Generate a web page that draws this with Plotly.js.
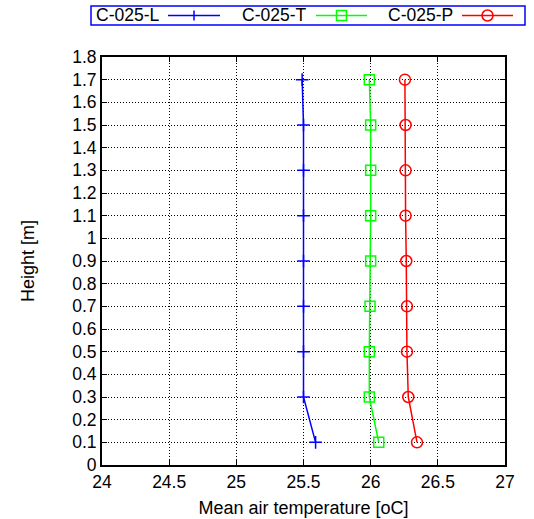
<!DOCTYPE html>
<html>
<head>
<meta charset="utf-8">
<script src="https://cdn.plot.ly/plotly-3.0.1.min.js"></script>
<style>html,body{margin:0;padding:0;background:#fff;}#chart{width:534px;height:519px;}</style>
</head>
<body>
<div id="chart"></div>
<script>
var heights = [0.1, 0.3, 0.5, 0.7, 0.9, 1.1, 1.3, 1.5, 1.7];
var tempL = [25.59, 25.50, 25.50, 25.50, 25.50, 25.50, 25.50, 25.50, 25.49];
var tempT = [26.06, 25.99, 25.99, 25.995, 26.00, 26.00, 26.00, 26.00, 25.99];
var tempP = [26.345, 26.28, 26.27, 26.27, 26.265, 26.26, 26.26, 26.26, 26.255];
var seriesNames = ['C-025-L', 'C-025-T', 'C-025-P'];

var FONT = 'Liberation Sans, Arial, sans-serif';
var W = 534, H = 519;
var M = {l: 102, r: 29, t: 57, b: 54};
var plotW = W - M.l - M.r, plotH = H - M.t - M.b;
function px(x) { return (x - M.l) / plotW; }
function py(y) { return (H - M.b - y) / plotH; }

var traces = [
  {x: tempL, y: heights, name: seriesNames[0], mode: 'lines+markers',
   line: {color: '#0000ff', width: 1.5},
   marker: {symbol: 'cross-thin-open', size: 9, line: {color: '#0000ff', width: 1.5}}},
  {x: tempT, y: heights, name: seriesNames[1], mode: 'lines+markers',
   line: {color: '#00ff00', width: 1.5},
   marker: {symbol: 'square-open', size: 10, color: '#00ff00', line: {width: 1.5}}},
  {x: tempP, y: heights, name: seriesNames[2], mode: 'lines+markers',
   line: {color: '#ff0000', width: 1.5},
   marker: {symbol: 'circle-open', size: 11, color: '#ff0000', line: {width: 1.5}}}
];

// custom legend (gnuplot style: text, then sample)
var shapes = [];
var annotations = [];
shapes.push({type: 'rect', xref: 'paper', yref: 'paper',
  x0: px(91), x1: px(525), y0: py(25), y1: py(6),
  line: {color: '#0000ff', width: 1.5}, fillcolor: 'rgba(0,0,0,0)'});
var legColors = ['#0000ff', '#00ff00', '#ff0000'];
var textX = [95, 241, 387];
var lineX0 = [168, 316, 462];
var lineX1 = [220, 367, 513];
var ly = 15.5;
for (var i = 0; i < 3; i++) {
  annotations.push({xref: 'paper', yref: 'paper', x: px(textX[i] - 1), y: py(ly),
    xanchor: 'left', yanchor: 'middle', showarrow: false, text: seriesNames[i],
    font: {family: FONT, size: 17.5, color: '#000'}});
  shapes.push({type: 'line', xref: 'paper', yref: 'paper',
    x0: px(lineX0[i]), x1: px(lineX1[i]), y0: py(ly), y1: py(ly),
    line: {color: legColors[i], width: 1.5}});
  var cx = (lineX0[i] + lineX1[i]) / 2;
  if (i === 0) {
    shapes.push({type: 'line', xref: 'paper', yref: 'paper',
      x0: px(cx), x1: px(cx), y0: py(ly - 5), y1: py(ly + 5),
      line: {color: legColors[i], width: 1.5}});
  } else if (i === 1) {
    shapes.push({type: 'rect', xref: 'paper', yref: 'paper',
      x0: px(cx - 5), x1: px(cx + 5), y0: py(ly + 5), y1: py(ly - 5),
      line: {color: legColors[i], width: 1.5}, fillcolor: 'rgba(0,0,0,0)'});
  } else {
    shapes.push({type: 'circle', xref: 'paper', yref: 'paper',
      x0: px(cx - 5.5), x1: px(cx + 5.5), y0: py(ly + 5.5), y1: py(ly - 5.5),
      line: {color: legColors[i], width: 1.5}, fillcolor: 'rgba(0,0,0,0)'});
  }
}

var axisCommon = {
  showline: true, linecolor: '#000', linewidth: 2, mirror: 'ticks',
  ticks: 'inside', ticklen: 5, tickcolor: '#000', tickwidth: 1,
  showgrid: true, gridcolor: '#000', gridwidth: 1, griddash: '1px,2px',
  zeroline: false, tickfont: {family: FONT, size: 17.5, color: '#000'}
};

var layout = {
  width: W, height: H,
  margin: M,
  paper_bgcolor: '#fff', plot_bgcolor: '#fff',
  showlegend: false,
  font: {family: FONT, size: 18, color: '#000'},
  xaxis: Object.assign({}, axisCommon, {
    range: [24, 27], dtick: 0.5, tick0: 24,
    title: {text: 'Mean air temperature [oC]', font: {family: FONT, size: 18}, standoff: 10}
  }),
  yaxis: Object.assign({}, axisCommon, {
    range: [0, 1.8], dtick: 0.1, tick0: 0,
    title: {text: 'Height [m]', font: {family: FONT, size: 18}, standoff: 33}
  }),
  shapes: shapes,
  annotations: annotations
};

Plotly.newPlot('chart', traces, layout, {displayModeBar: false, staticPlot: true});
</script>
</body>
</html>
